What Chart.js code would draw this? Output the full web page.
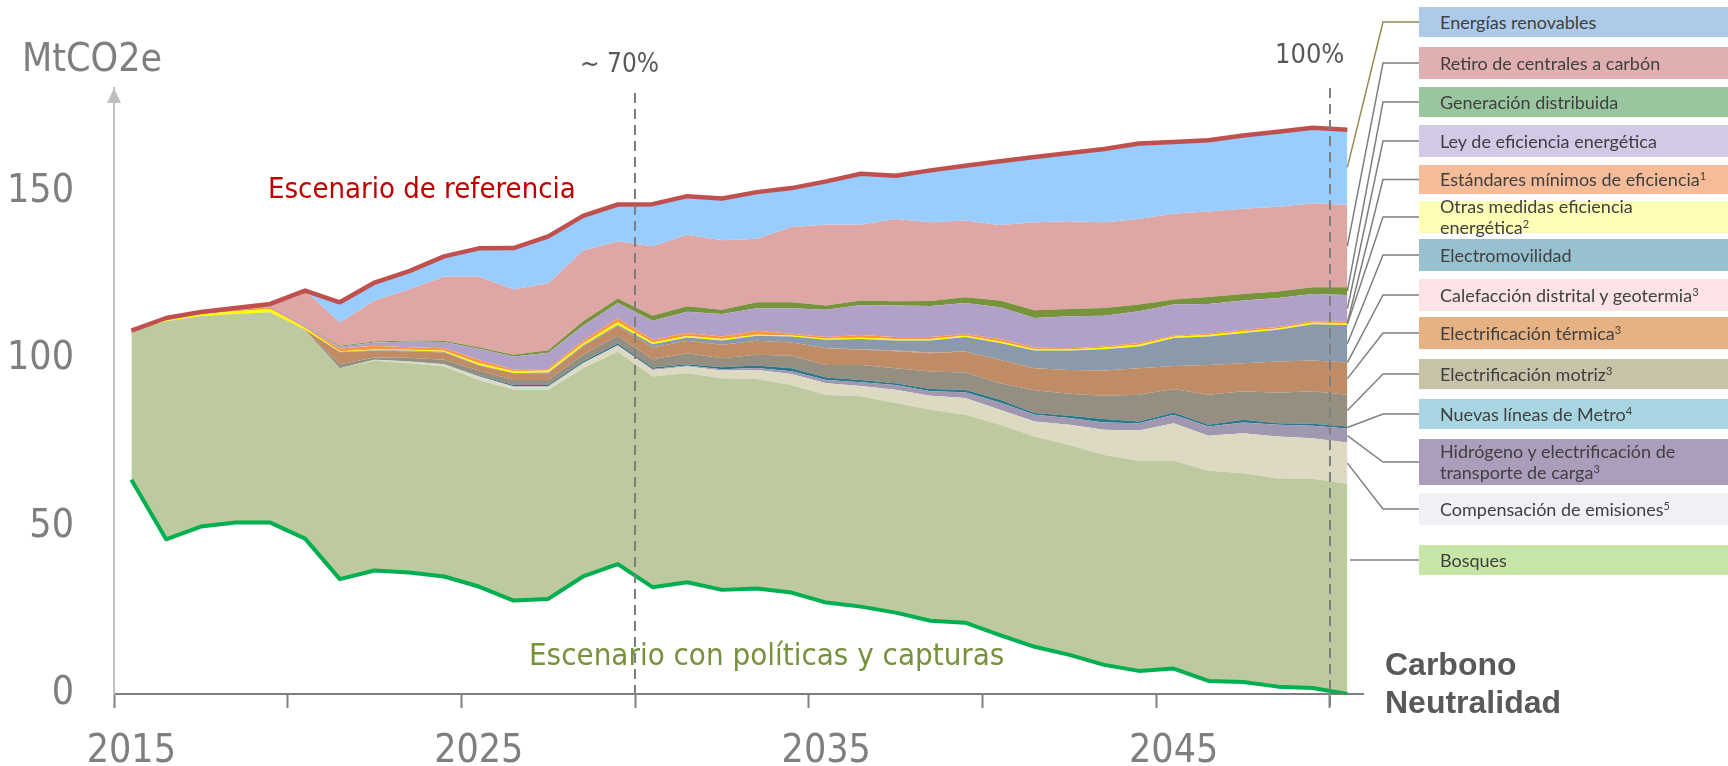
<!DOCTYPE html>
<html>
<head>
<meta charset="utf-8">
<script src="https://cdn.jsdelivr.net/npm/chart.js@4.4.1/dist/chart.umd.min.js"></script>
<style>
body { margin: 0; background: #fff; }
#wrap { position: relative; width: 1728px; height: 766px; overflow: hidden; }
#grafico { position: absolute; left: 0; top: 0; }
.txt { position: absolute; white-space: nowrap; line-height: 1; font-family: 'Liberation Sans Narrow', 'DejaVu Sans Condensed', sans-serif; }
.caja { position: absolute; left: 1419px; width: 309px; display: flex; align-items: center; box-sizing: border-box; padding-left: 21px; font-family: Lato, sans-serif; font-size: 18px; color: #404040; line-height: 21px; white-space: nowrap; }
.caja sup { font-size: 11px; line-height: 0; vertical-align: 6px; }
</style>
</head>
<body>
<div id="wrap">
  <canvas id="grafico" width="1728" height="766"></canvas>
  <div class="txt" style="left:22px;top:38px;font-size:39px;color:#7f7f7f">MtCO2e</div>
  <div class="txt" style="left:580px;top:50px;font-size:26px;color:#595959">~ 70%</div>
  <div class="txt" style="left:1275px;top:40px;font-size:27px;color:#595959">100%</div>
  <div class="txt" style="left:268px;top:174px;font-size:29px;color:#c00000">Escenario de referencia</div>
  <div class="txt" style="left:529px;top:639px;font-size:31px;color:#76923c">Escenario con políticas y capturas</div>
  <div class="txt" style="left:1385px;top:645px;font-size:32px;line-height:38px;color:#595959;font-family:'Liberation Sans', Arial, sans-serif;font-weight:bold">Carbono<br>Neutralidad</div>
  <div id="leyenda"></div>
</div>
<script>
// años del escenario
const anios = [2015, 2016, 2017, 2018, 2019, 2020, 2021, 2022, 2023, 2024,
    2025, 2026, 2027, 2028, 2029, 2030, 2031, 2032, 2033, 2034,
    2035, 2036, 2037, 2038, 2039, 2040, 2041, 2042, 2043, 2044,
    2045, 2046, 2047, 2048, 2049, 2050];

// etiquetas y marcas de ejes
const aniosEtiqueta = [2015, 2025, 2035, 2045];
const marcasX = [2014.5, 2019.5, 2024.5, 2029.5, 2034.5, 2039.5, 2044.5, 2049.5];
const marcasY = [0, 50, 100, 150];
const hitos = [2029.5, 2049.5];

// MtCO2e
const escenarioReferencia = [108.5, 112.3, 114.1, 115.3, 116.5, 120.5, 117.0, 122.9, 126.3, 130.7,
    133.1, 133.2, 136.7, 142.8, 146.2, 146.3, 148.7, 148.0, 149.9, 151.1,
    153.1, 155.4, 154.8, 156.4, 157.8, 159.1, 160.4, 161.6, 162.8, 164.4,
    164.9, 165.4, 166.8, 167.9, 169.1, 168.5];

const escenarioPoliticas = [64.0, 46.2, 50.0, 51.2, 51.2, 46.4, 34.3, 36.9, 36.3, 35.1,
    32.1, 27.9, 28.4, 35.1, 38.8, 31.9, 33.4, 31.1, 31.5, 30.3,
    27.3, 26.1, 24.3, 21.9, 21.3, 17.6, 14.1, 11.7, 8.7, 6.9,
    7.6, 3.9, 3.6, 2.2, 1.8, 0.0];

const bosques = [44.5, 65.1, 62.9, 62.3, 62.8, 62.2, 63.0, 62.6, 62.5, 62.7,
    61.7, 63.0, 62.5, 62.2, 63.4, 62.9, 62.4, 63.2, 62.6, 62.0,
    62.0, 62.8, 62.6, 63.0, 62.1, 62.8, 62.8, 62.7, 62.7, 62.8,
    62.1, 62.8, 62.3, 62.2, 62.5, 62.8];

const compensacion = [0, 0, 0, 0, 0, 0, 0, 0.3, 0.5, 0.7,
    1.0, 0.9, 0.9, 1.5, 1.8, 2.0, 2.0, 2.3, 2.7, 3.3,
    3.5, 3.1, 4.0, 4.2, 5.0, 4.5, 4.5, 6.0, 7.5, 9.0,
    11.2, 10.4, 12.0, 12.5, 12.1, 12.3];

const hidrogeno = [0, 0, 0, 0, 0, 0, 0, 0, 0, 0,
    0.1, 0.1, 0.1, 0.1, 0.2, 0.3, 0.3, 0.4, 0.6, 0.8,
    1.0, 1.1, 1.4, 1.3, 1.7, 2.2, 2.0, 2.0, 2.2, 2.2,
    2.5, 2.8, 3.2, 3.5, 3.7, 4.2];

const metro = [0, 0, 0, 0, 0, 0, 0, 0.1, 0.1, 0.1,
    0.2, 0.4, 0.4, 0.4, 0.5, 0.4, 0.4, 0.6, 0.7, 0.9,
    0.7, 0.7, 0.5, 0.7, 0.8, 0.8, 0.5, 0.7, 1.0, 0.5,
    0.7, 0.5, 0.8, 0.5, 0.6, 0.6];

const motriz = [0, 0, 0, 0, 0, 0, 1.2, 0.6, 1.0, 1.2,
    1.5, 1.5, 1.5, 2.0, 2.3, 2.5, 3.3, 2.7, 3.2, 3.7,
    3.8, 4.5, 4.5, 5.2, 5.1, 4.9, 6.8, 6.6, 7.0, 8.0,
    7.0, 9.0, 8.5, 9.1, 9.7, 9.5];

const termica = [0, 0, 0, 0, 0, 0.2, 3.6, 2.0, 2.0, 2.2,
    1.5, 2.0, 2.0, 2.5, 3.0, 3.5, 3.7, 4.0, 4.2, 4.0,
    5.0, 4.5, 5.1, 5.5, 6.3, 7.0, 6.6, 7.1, 7.5, 7.9,
    6.9, 8.9, 8.4, 9.3, 9.2, 9.6];

const calefaccion = [0, 0, 0, 0, 0, 0, 0, 0, 0, 0,
    0, 0, 0, 0, 0, 0, 0, 0, 0, 0,
    0, 0.2, 0.2, 0.2, 0, 0, 0, 0, 0, 0,
    0, 0, 0, 0, 0, 0];

const electromovilidad = [0, 0, 0, 0, 0, 0, 0.1, 0.2, 0.2, 0.2,
    0.2, 0.1, 0.2, 0.3, 0.3, 1.0, 1.0, 1.3, 1.5, 1.8,
    2.5, 3.0, 3.0, 3.6, 4.3, 5.0, 5.3, 5.8, 6.4, 6.5,
    8.3, 8.5, 9.0, 9.5, 10.8, 11.2];

const otrasMedidas = [0, 0.3, 0.5, 0.8, 1.0, 0.5, 0.2, 0.2, 0.2, 0.3,
    0.5, 0.5, 0.6, 0.6, 0.7, 0.5, 0.4, 0.4, 0.3, 0.3,
    0.3, 0.4, 0.4, 0.4, 0.4, 0.5, 0.4, 0.3, 0.4, 0.5,
    0.4, 0.4, 0.5, 0.4, 0.5, 0.5];

const estandares = [0, 0.2, 0.3, 0.4, 0.5, 0.4, 0.8, 1.1, 0.8, 0.8,
    1.0, 0.5, 0.5, 0.8, 1.2, 0.8, 0.9, 0.8, 1.2, 0.5,
    0.5, 0.8, 0.6, 0.6, 0.5, 0.7, 0.5, 0.4, 0.4, 0.5,
    0.3, 0.4, 0.5, 0.4, 0.4, 0.4];

const leyEficiencia = [0, 0.2, 0.2, 0.3, 0.5, 0.5, 0.5, 1.0, 1.7, 1.8,
    3.3, 3.9, 4.8, 4.5, 4.6, 5.7, 6.4, 6.7, 6.7, 7.6,
    8.2, 9.0, 9.4, 9.3, 9.3, 9.5, 8.8, 9.5, 9.2, 9.5,
    9.3, 8.9, 8.7, 8.7, 8.2, 8.1];

const generacion = [0, 0, 0, 0, 0, 0.1, 0.3, 0.3, 0.3, 0.4,
    0.5, 0.5, 0.8, 1.3, 1.3, 1.5, 1.6, 1.3, 1.8, 1.8,
    1.2, 1.3, 1.3, 1.5, 1.7, 2.0, 2.3, 2.2, 2.3, 2.0,
    1.5, 2.1, 2.0, 1.9, 2.0, 2.3];

const retiroCarbon = [0, 0.1, 0.1, 0.2, 0.3, 10.2, 7.0, 12.2, 15.3, 19.2,
    21.1, 19.6, 20.0, 21.2, 17.1, 20.7, 21.4, 20.7, 19.0, 22.5,
    24.2, 22.7, 24.6, 23.5, 22.9, 22.6, 26.3, 26.2, 25.6, 25.6,
    25.7, 25.5, 25.4, 25.3, 25.1, 24.6];

// capas apiladas, de abajo hacia arriba (energías renovables = hasta el escenario de referencia)
const capas = [
    { nombre: 'Bosques', datos: bosques, color: '#bdc99e' },
    { nombre: 'Compensación de emisiones', datos: compensacion, color: '#ddd9c3' },
    { nombre: 'Hidrógeno y electrificación de transporte de carga', datos: hidrogeno, color: '#9f98b0' },
    { nombre: 'Nuevas líneas de Metro', datos: metro, color: '#2b7689' },
    { nombre: 'Electrificación motriz', datos: motriz, color: '#948f80' },
    { nombre: 'Electrificación térmica', datos: termica, color: '#bf8c65' },
    { nombre: 'Calefacción distrital y geotermia', datos: calefaccion, color: '#c98a82' },
    { nombre: 'Electromovilidad', datos: electromovilidad, color: '#8a9aaa' },
    { nombre: 'Otras medidas eficiencia energética', datos: otrasMedidas, color: '#ffff00' },
    { nombre: 'Estándares mínimos de eficiencia', datos: estandares, color: '#f79646' },
    { nombre: 'Ley de eficiencia energética', datos: leyEficiencia, color: '#b1a0c7' },
    { nombre: 'Generación distribuida', datos: generacion, color: '#77933c' },
    { nombre: 'Retiro de centrales a carbón', datos: retiroCarbon, color: '#dea6a5' }
];

// leyenda: texto, color de la caja, dataset al que apunta
const leyenda = [
    { texto: 'Energías renovables', color: '#adcbe8', ds: 0, top: 7, alto: 30 },
    { texto: 'Retiro de centrales a carbón', color: '#e0b0b0', ds: 14, top: 47, alto: 32 },
    { texto: 'Generación distribuida', color: '#9ac69f', ds: 13, top: 87, alto: 30 },
    { texto: 'Ley de eficiencia energética', color: '#d1c9e6', ds: 12, top: 125, alto: 32 },
    { texto: 'Estándares mínimos de eficiencia<sup>1</sup>', color: '#f6bc98', ds: 11, top: 165, alto: 29 },
    { texto: 'Otras medidas eficiencia<br>energética<sup>2</sup>', color: '#fefdb6', ds: 10, top: 201, alto: 32 },
    { texto: 'Electromovilidad', color: '#98c1cf', ds: 9, top: 239, alto: 32 },
    { texto: 'Calefacción distrital y geotermia<sup>3</sup>', color: '#fde3e5', ds: 8, top: 279, alto: 32 },
    { texto: 'Electrificación térmica<sup>3</sup>', color: '#e6b283', ds: 7, top: 317, alto: 32 },
    { texto: 'Electrificación motriz<sup>3</sup>', color: '#c8c2a8', ds: 6, top: 359, alto: 30 },
    { texto: 'Nuevas líneas de Metro<sup>4</sup>', color: '#a7d5e2', ds: 5, top: 399, alto: 30 },
    { texto: 'Hidrógeno y electrificación de<br>transporte de carga<sup>3</sup>', color: '#ad9dbd', ds: 4, top: 439, alto: 46 },
    { texto: 'Compensación de emisiones<sup>5</sup>', color: '#f1f0f5', ds: 3, top: 493, alto: 32 },
    { texto: 'Bosques', color: '#c7e5a6', ds: 2, top: 545, alto: 30 }
];

const cont = document.getElementById('leyenda');
leyenda.forEach(item => {
    const d = document.createElement('div');
    d.className = 'caja';
    d.style.top = item.top + 'px';
    d.style.height = item.alto + 'px';
    d.style.background = item.color;
    d.innerHTML = '<span>' + item.texto + '</span>';
    cont.appendChild(d);
});

function puntos(serie) {
    return serie.map((v, i) => ({ x: anios[i], y: v }));
}

const datasets = [
    {
        label: 'Escenario de referencia',
        data: puntos(escenarioReferencia),
        stack: 'ref',
        borderColor: '#c0504d',
        borderWidth: 4.5,
        backgroundColor: '#99ccff',
        fill: capas.length + 1
    },
    {
        label: 'Escenario con políticas y capturas',
        data: puntos(escenarioPoliticas),
        stack: 'mit',
        borderColor: '#00b050',
        borderWidth: 4,
        fill: false
    }
];

capas.forEach((c, i) => {
    datasets.push({
        label: c.nombre,
        data: puntos(c.datos),
        stack: 'mit',
        borderColor: 'rgba(0,0,0,0)',
        borderWidth: 0,
        backgroundColor: c.color,
        fill: i + 1
    });
});

const extras = {
    id: 'extras',
    afterDraw(chart) {
        const { ctx, chartArea, scales: { x } } = chart;
        ctx.save();

        // flecha del eje y
        ctx.fillStyle = '#bfbfbf';
        ctx.beginPath();
        ctx.moveTo(chartArea.left, chartArea.top);
        ctx.lineTo(chartArea.left - 7, chartArea.top + 15);
        ctx.lineTo(chartArea.left + 7, chartArea.top + 15);
        ctx.closePath();
        ctx.fill();

        // líneas de hito (~70% y 100%)
        ctx.strokeStyle = '#7f7f7f';
        ctx.lineWidth = 2;
        ctx.setLineDash([10, 6]);
        const arriba = [93, 88];
        const abajo = [chartArea.bottom, chartArea.bottom + 13];
        hitos.forEach((h, i) => {
            const px = Math.round(x.getPixelForValue(h));
            ctx.beginPath();
            ctx.moveTo(px, arriba[i]);
            ctx.lineTo(px, abajo[i]);
            ctx.stroke();
        });
        ctx.setLineDash([]);

        // líneas guía hacia la leyenda
        ctx.lineWidth = 1.5;
        leyenda.forEach((item, i) => {
            const cy = item.top + item.alto / 2;
            ctx.strokeStyle = i == 0 ? '#948a54' : '#7f7f7f';
            ctx.beginPath();
            if (item.ds == 2) {
                ctx.moveTo(chartArea.right - 13, cy);
                ctx.lineTo(1419, cy);
            } else {
                const meta = chart.getDatasetMeta(item.ds);
                const n = meta.data.length - 1;
                const abajoDs = item.ds == 0 ? capas.length + 1 : item.ds - 1;
                const p1 = meta.data[n];
                const p2 = chart.getDatasetMeta(abajoDs).data[n];
                ctx.moveTo(p1.x, (p1.y + p2.y) / 2);
                ctx.lineTo(1383, cy);
                ctx.lineTo(1419, cy);
            }
            ctx.stroke();
        });
        ctx.restore();
    }
};

const fuenteEje = "'Liberation Sans Narrow', 'DejaVu Sans Condensed', sans-serif";

new Chart(document.getElementById('grafico'), {
    type: 'line',
    data: { datasets: datasets },
    options: {
        responsive: false,
        animation: false,
        events: [],
        devicePixelRatio: 1,
        layout: { padding: { top: 88, right: 365, left: 0, bottom: 0 } },
        elements: {
            point: { radius: 0, hoverRadius: 0 },
            line: { tension: 0, borderJoinStyle: 'round' }
        },
        plugins: {
            legend: { display: false },
            tooltip: { enabled: false }
        },
        scales: {
            x: {
                type: 'linear',
                min: 2014.5,
                max: 2050.45,
                afterBuildTicks: s => {
                    s.ticks = marcasX.concat(aniosEtiqueta).sort((a, b) => a - b).map(v => ({ value: v }));
                },
                afterFit: s => { s.height = 72; },
                grid: {
                    drawOnChartArea: false,
                    tickLength: 14,
                    tickWidth: 2,
                    tickColor: c => (c.tick && Number.isInteger(c.tick.value)) ? 'rgba(0,0,0,0)' : '#7f7f7f'
                },
                border: { color: '#7f7f7f', width: 2 },
                ticks: {
                    autoSkip: false,
                    maxRotation: 0,
                    padding: 20,
                    color: '#7f7f7f',
                    font: { family: fuenteEje, size: 39 },
                    callback: v => Number.isInteger(v) ? String(v) : ''
                }
            },
            y: {
                stacked: true,
                min: 0,
                max: 181,
                afterBuildTicks: s => { s.ticks = marcasY.map(v => ({ value: v })); },
                afterFit: s => { s.width = 114; },
                grid: { display: false, drawTicks: false },
                border: { color: '#bfbfbf', width: 2 },
                ticks: {
                    padding: 40,
                    color: '#7f7f7f',
                    font: { family: fuenteEje, size: 39 }
                }
            }
        }
    },
    plugins: [extras]
});
</script>
</body>
</html>
